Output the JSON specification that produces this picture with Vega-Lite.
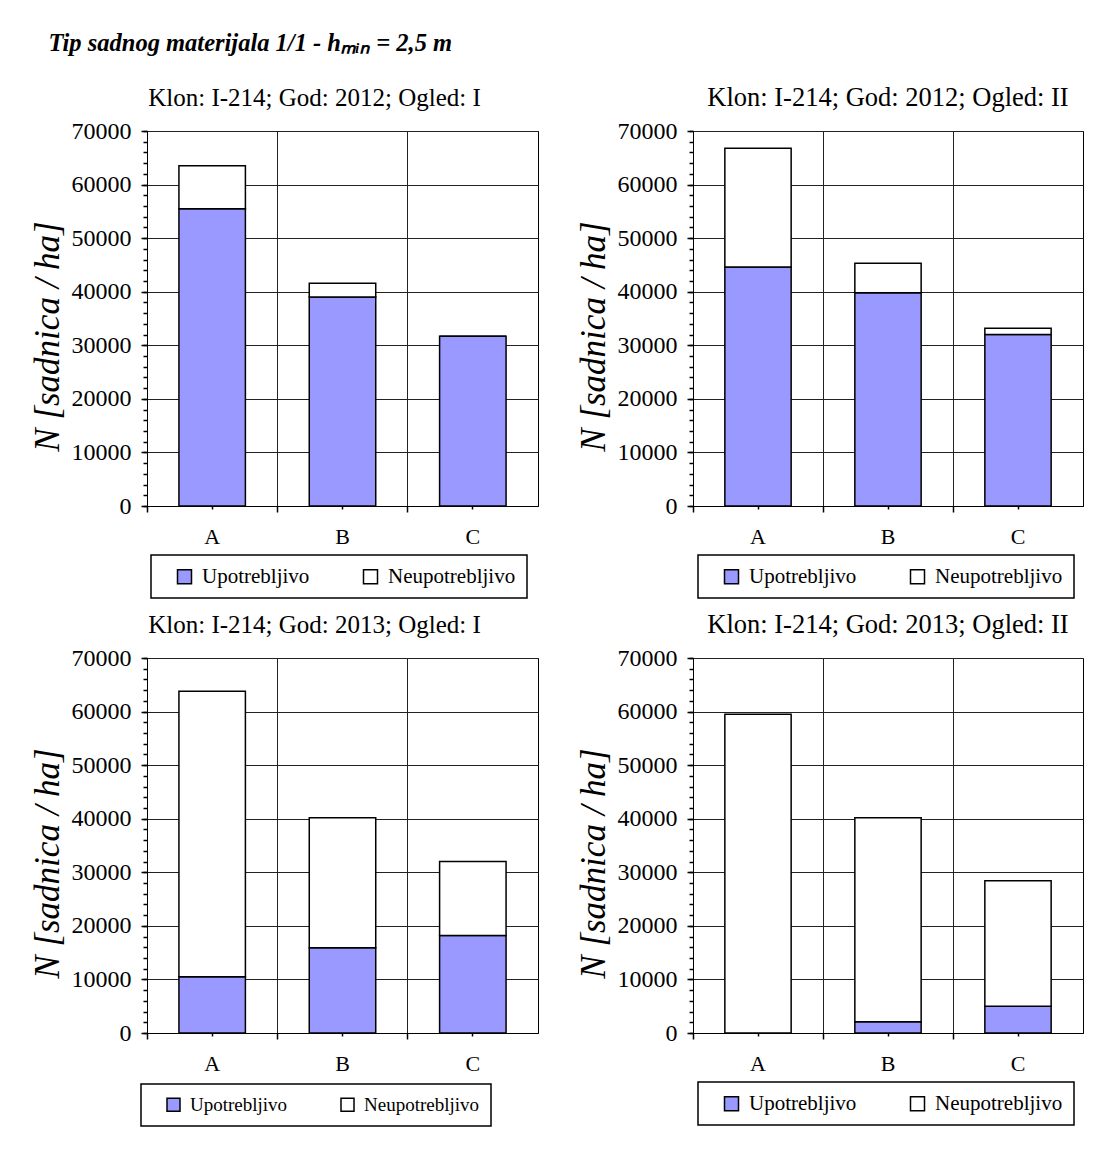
{
  "$schema": "https://vega.github.io/schema/vega-lite/v6.json",
  "background": "white",
  "padding": {"left": 29, "top": 30, "right": 5, "bottom": 5},
  "title": {"text": "Tip sadnog materijala 1/1 - hₘᵢₙ = 2,5 m", "anchor": "start", "font": "Liberation Serif", "fontSize": 24.5, "fontStyle": "italic", "fontWeight": "bold", "offset": 28, "dx": 19, "color": "black"},
  "data": {"values": [
    {"panel": 1, "category": "A", "status": "Upotrebljivo", "value": 55500},
    {"panel": 1, "category": "A", "status": "Neupotrebljivo", "value": 8000},
    {"panel": 1, "category": "B", "status": "Upotrebljivo", "value": 39000},
    {"panel": 1, "category": "B", "status": "Neupotrebljivo", "value": 2600},
    {"panel": 1, "category": "C", "status": "Upotrebljivo", "value": 31700},
    {"panel": 1, "category": "C", "status": "Neupotrebljivo", "value": 0},
    {"panel": 2, "category": "A", "status": "Upotrebljivo", "value": 44600},
    {"panel": 2, "category": "A", "status": "Neupotrebljivo", "value": 22200},
    {"panel": 2, "category": "B", "status": "Upotrebljivo", "value": 39800},
    {"panel": 2, "category": "B", "status": "Neupotrebljivo", "value": 5500},
    {"panel": 2, "category": "C", "status": "Upotrebljivo", "value": 32000},
    {"panel": 2, "category": "C", "status": "Neupotrebljivo", "value": 1200},
    {"panel": 3, "category": "A", "status": "Upotrebljivo", "value": 10500},
    {"panel": 3, "category": "A", "status": "Neupotrebljivo", "value": 53300},
    {"panel": 3, "category": "B", "status": "Upotrebljivo", "value": 15900},
    {"panel": 3, "category": "B", "status": "Neupotrebljivo", "value": 24300},
    {"panel": 3, "category": "C", "status": "Upotrebljivo", "value": 18200},
    {"panel": 3, "category": "C", "status": "Neupotrebljivo", "value": 13800},
    {"panel": 4, "category": "A", "status": "Upotrebljivo", "value": 0},
    {"panel": 4, "category": "A", "status": "Neupotrebljivo", "value": 59500},
    {"panel": 4, "category": "B", "status": "Upotrebljivo", "value": 2100},
    {"panel": 4, "category": "B", "status": "Neupotrebljivo", "value": 38100},
    {"panel": 4, "category": "C", "status": "Upotrebljivo", "value": 5000},
    {"panel": 4, "category": "C", "status": "Neupotrebljivo", "value": 23400}
  ]},
  "vconcat": [
    {"hconcat": [
      {
        "title": {"text": "Klon: I-214; God: 2012; Ogled: I", "dx": -28},
        "width": 391, "height": 375,
        "transform": [{"filter": "datum.panel == 1"}],
        "layer": [
          {"mark": {"type": "bar", "opacity": 0},
           "encoding": {
             "x": {"field": "category", "type": "nominal", "scale": {"paddingInner": 0, "paddingOuter": 0}, "axis": {"orient": "bottom", "bandPosition": 0, "grid": true, "labels": false, "tickSize": 6, "domain": false, "title": null}},
             "y": {"field": "value", "type": "quantitative", "scale": {"domain": [0, 70000]}, "axis": {"orient": "left", "values": [0,2000,4000,6000,8000,10000,12000,14000,16000,18000,20000,22000,24000,26000,28000,30000,32000,34000,36000,38000,40000,42000,44000,46000,48000,50000,52000,54000,56000,58000,60000,62000,64000,66000,68000,70000], "labels": false, "tickSize": 4, "grid": false, "domain": false, "title": null}}
           }},
          {"mark": {"type": "bar", "stroke": "black", "strokeWidth": 1.5, "width": {"band": 0.51}},
           "encoding": {
             "x": {"field": "category", "type": "nominal", "axis": {"orient": "bottom", "bandPosition": 0.5, "grid": false, "labelAngle": 0, "tickSize": 3, "labelPadding": 17, "title": null}},
             "y": {"field": "value", "type": "quantitative", "stack": "zero", "axis": {"orient": "left", "values": [0,10000,20000,30000,40000,50000,60000,70000], "format": "d", "grid": true, "tickSize": 6, "labelPadding": 10, "labelFontSize": 24, "title": "N [sadnica / ha]", "titleY": 205}},
             "color": {"field": "status", "type": "nominal", "scale": {"domain": ["Upotrebljivo", "Neupotrebljivo"], "range": ["#9999FF", "#FFFFFF"]}, "legend": {"legendX": 4, "legendY": 424}},
             "order": {"field": "status", "sort": "descending"}
           }}
        ],
        "resolve": {"axis": {"x": "independent", "y": "independent"}}
      },
      {
        "title": {"text": "Klon: I-214; God: 2012; Ogled: II", "fontSize": 26.5},
        "width": 390, "height": 375,
        "transform": [{"filter": "datum.panel == 2"}],
        "layer": [
          {"mark": {"type": "bar", "opacity": 0},
           "encoding": {
             "x": {"field": "category", "type": "nominal", "scale": {"paddingInner": 0, "paddingOuter": 0}, "axis": {"orient": "bottom", "bandPosition": 0, "grid": true, "labels": false, "tickSize": 6, "domain": false, "title": null}},
             "y": {"field": "value", "type": "quantitative", "scale": {"domain": [0, 70000]}, "axis": {"orient": "left", "values": [0,2000,4000,6000,8000,10000,12000,14000,16000,18000,20000,22000,24000,26000,28000,30000,32000,34000,36000,38000,40000,42000,44000,46000,48000,50000,52000,54000,56000,58000,60000,62000,64000,66000,68000,70000], "labels": false, "tickSize": 4, "grid": false, "domain": false, "title": null}}
           }},
          {"mark": {"type": "bar", "stroke": "black", "strokeWidth": 1.5, "width": {"band": 0.51}},
           "encoding": {
             "x": {"field": "category", "type": "nominal", "axis": {"orient": "bottom", "bandPosition": 0.5, "grid": false, "labelAngle": 0, "tickSize": 3, "labelPadding": 17, "title": null}},
             "y": {"field": "value", "type": "quantitative", "stack": "zero", "axis": {"orient": "left", "values": [0,10000,20000,30000,40000,50000,60000,70000], "format": "d", "grid": true, "tickSize": 6, "labelPadding": 10, "labelFontSize": 24, "title": "N [sadnica / ha]", "titleY": 205}},
             "color": {"field": "status", "type": "nominal", "scale": {"domain": ["Upotrebljivo", "Neupotrebljivo"], "range": ["#9999FF", "#FFFFFF"]}, "legend": {"legendX": 5, "legendY": 424}},
             "order": {"field": "status", "sort": "descending"}
           }}
        ],
        "resolve": {"axis": {"x": "independent", "y": "independent"}}
      }
    ], "spacing": 36, "resolve": {"legend": {"color": "independent"}}},
    {"hconcat": [
      {
        "title": {"text": "Klon: I-214; God: 2013; Ogled: I", "dx": -28},
        "width": 391, "height": 375,
        "transform": [{"filter": "datum.panel == 3"}],
        "layer": [
          {"mark": {"type": "bar", "opacity": 0},
           "encoding": {
             "x": {"field": "category", "type": "nominal", "scale": {"paddingInner": 0, "paddingOuter": 0}, "axis": {"orient": "bottom", "bandPosition": 0, "grid": true, "labels": false, "tickSize": 6, "domain": false, "title": null}},
             "y": {"field": "value", "type": "quantitative", "scale": {"domain": [0, 70000]}, "axis": {"orient": "left", "values": [0,2000,4000,6000,8000,10000,12000,14000,16000,18000,20000,22000,24000,26000,28000,30000,32000,34000,36000,38000,40000,42000,44000,46000,48000,50000,52000,54000,56000,58000,60000,62000,64000,66000,68000,70000], "labels": false, "tickSize": 4, "grid": false, "domain": false, "title": null}}
           }},
          {"mark": {"type": "bar", "stroke": "black", "strokeWidth": 1.5, "width": {"band": 0.51}},
           "encoding": {
             "x": {"field": "category", "type": "nominal", "axis": {"orient": "bottom", "bandPosition": 0.5, "grid": false, "labelAngle": 0, "tickSize": 3, "labelPadding": 17, "title": null}},
             "y": {"field": "value", "type": "quantitative", "stack": "zero", "axis": {"orient": "left", "values": [0,10000,20000,30000,40000,50000,60000,70000], "format": "d", "grid": true, "tickSize": 6, "labelPadding": 10, "labelFontSize": 24, "title": "N [sadnica / ha]", "titleY": 205}},
             "color": {"field": "status", "type": "nominal", "scale": {"domain": ["Upotrebljivo", "Neupotrebljivo"], "range": ["#9999FF", "#FFFFFF"]}, "legend": {"legendX": -6, "legendY": 426, "labelFontSize": 19, "symbolSize": 169, "columnPadding": 38, "padding": 11}},
             "order": {"field": "status", "sort": "descending"}
           }}
        ],
        "resolve": {"axis": {"x": "independent", "y": "independent"}}
      },
      {
        "title": {"text": "Klon: I-214; God: 2013; Ogled: II", "fontSize": 26.5},
        "width": 390, "height": 375,
        "transform": [{"filter": "datum.panel == 4"}],
        "layer": [
          {"mark": {"type": "bar", "opacity": 0},
           "encoding": {
             "x": {"field": "category", "type": "nominal", "scale": {"paddingInner": 0, "paddingOuter": 0}, "axis": {"orient": "bottom", "bandPosition": 0, "grid": true, "labels": false, "tickSize": 6, "domain": false, "title": null}},
             "y": {"field": "value", "type": "quantitative", "scale": {"domain": [0, 70000]}, "axis": {"orient": "left", "values": [0,2000,4000,6000,8000,10000,12000,14000,16000,18000,20000,22000,24000,26000,28000,30000,32000,34000,36000,38000,40000,42000,44000,46000,48000,50000,52000,54000,56000,58000,60000,62000,64000,66000,68000,70000], "labels": false, "tickSize": 4, "grid": false, "domain": false, "title": null}}
           }},
          {"mark": {"type": "bar", "stroke": "black", "strokeWidth": 1.5, "width": {"band": 0.51}},
           "encoding": {
             "x": {"field": "category", "type": "nominal", "axis": {"orient": "bottom", "bandPosition": 0.5, "grid": false, "labelAngle": 0, "tickSize": 3, "labelPadding": 17, "title": null}},
             "y": {"field": "value", "type": "quantitative", "stack": "zero", "axis": {"orient": "left", "values": [0,10000,20000,30000,40000,50000,60000,70000], "format": "d", "grid": true, "tickSize": 6, "labelPadding": 10, "labelFontSize": 24, "title": "N [sadnica / ha]", "titleY": 205}},
             "color": {"field": "status", "type": "nominal", "scale": {"domain": ["Upotrebljivo", "Neupotrebljivo"], "range": ["#9999FF", "#FFFFFF"]}, "legend": {"legendX": 5, "legendY": 424}},
             "order": {"field": "status", "sort": "descending"}
           }}
        ],
        "resolve": {"axis": {"x": "independent", "y": "independent"}}
      }
    ], "spacing": 36, "resolve": {"legend": {"color": "independent"}}}
  ],
  "spacing": 11,
  "resolve": {"legend": {"color": "independent"}},
  "config": {
    "view": {"stroke": "black", "strokeWidth": 1},
    "title": {"font": "Liberation Serif", "fontSize": 25, "fontWeight": "normal", "color": "black", "offset": 8},
    "axis": {"labelFont": "Liberation Serif", "labelFontSize": 22, "labelColor": "black", "titleFont": "Liberation Serif", "titleFontSize": 35, "titleFontStyle": "italic", "titleFontWeight": "normal", "titleColor": "black", "titlePadding": 6, "domainColor": "black", "domainWidth": 1, "tickColor": "black", "tickWidth": 1.5, "gridColor": "#222222", "gridOpacity": 1, "gridWidth": 1},
    "legend": {"orient": "none", "direction": "horizontal", "title": null, "strokeColor": "black", "strokeWidth": 1.5, "fillColor": "white", "padding": 11, "symbolType": "square", "symbolSize": 196, "symbolStrokeColor": "black", "symbolStrokeWidth": 1.5, "symbolOpacity": 1, "labelFont": "Liberation Serif", "labelFontSize": 21, "labelColor": "black", "labelOffset": 7, "columnPadding": 38, "symbolOffset": 12}
  }
}
